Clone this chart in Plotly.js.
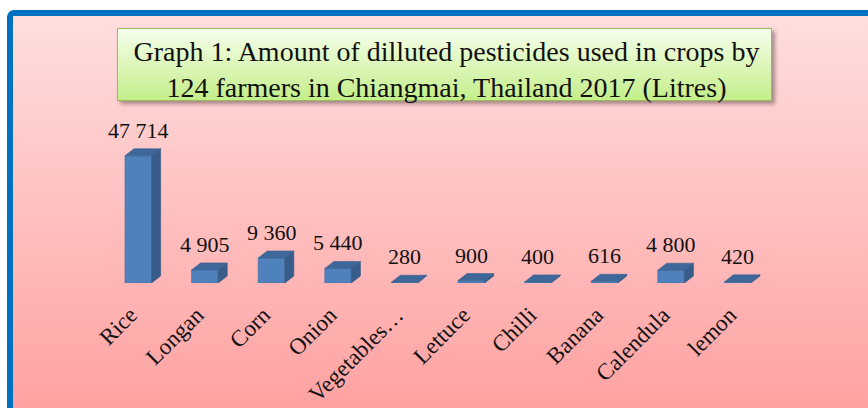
<!DOCTYPE html>
<html><head><meta charset="utf-8">
<script src="https://cdn.plot.ly/plotly-3.0.1.min.js"></script>
<style>
html,body{margin:0;padding:0;background:#fff;}
#wrap{position:relative;width:868px;height:408px;overflow:hidden;background:#fff;}
#frame{position:absolute;left:7px;top:10px;width:900px;height:450px;box-sizing:border-box;border:6px solid #0070C0;border-radius:7px;background:linear-gradient(to bottom,#FFDEDE 0px,#FFA2A2 392px);}
#tbox{position:absolute;left:117px;top:28px;width:655px;height:73px;box-sizing:border-box;border:1.5px solid #9BBB59;background:linear-gradient(to bottom,#F6FFEC,#C4EE8A);box-shadow:3px 3px 4px rgba(0,0,0,0.35);}
#chart{position:absolute;left:0;top:0;width:868px;height:408px;}
</style></head>
<body>
<div id="wrap"><div id="frame"></div><div id="tbox"></div><div id="chart"></div></div>
<script>
const categories = ['Rice','Longan','Corn','Onion','Vegetables…','Lettuce','Chilli','Banana','Calendula','lemon'];
const litres = [47714, 4905, 9360, 5440, 280, 900, 400, 616, 4800, 420];
const chartTitle = 'Graph 1: Amount of dilluted pesticides used in crops by<br>124 farmers in Chiangmai, Thailand 2017 (Litres)';

const W = 868, H = 408, ml = 105, mr = 97, mb = 125;
const yMax = 60000;
const plotH = 127 / 47714 * yMax;
const mt = H - mb - plotH;
const plotW = W - ml - mr;
const n = categories.length;
const barW = 0.4;
const dx = 9 / (plotW / n);
const dy = 7 * yMax / plotH;
const labelShift = 0.12;

const idx = categories.map((c, i) => i);
const sideX = [], sideY = [], topX = [], topY = [];
idx.forEach(i => {
  const v = litres[i], l = i - barW / 2, r = i + barW / 2;
  sideX.push(r, r + dx, r + dx, r, r, null);
  sideY.push(0, dy, v + dy, v, 0, null);
  topX.push(l, l + dx, r + dx, r, l, null);
  topY.push(v, v + dy, v + dy, v, v, null);
});
const fmt = v => String(v).replace(/\B(?=(\d{3})+(?!\d))/g, ' ');

const font = 'Liberation Serif, Times New Roman, serif';
const traces = [
  {type: 'bar', x: idx, y: litres, width: barW, marker: {color: '#4F81BD', line: {color: '#3F6EA6', width: 0.6}}, hoverinfo: 'skip'},
  {type: 'scatter', mode: 'lines', x: sideX, y: sideY, fill: 'toself', fillcolor: '#385D8A', line: {color: '#345780', width: 0.6}, hoverinfo: 'skip'},
  {type: 'scatter', mode: 'lines', x: topX, y: topY, fill: 'toself', fillcolor: '#3E6899', line: {color: '#3A6290', width: 0.6}, hoverinfo: 'skip'}
];
const layout = {
  width: W, height: H,
  margin: {l: ml, r: mr, t: mt, b: mb, pad: 0},
  paper_bgcolor: 'rgba(0,0,0,0)', plot_bgcolor: 'rgba(0,0,0,0)',
  showlegend: false,
  title: {text: chartTitle, font: {family: font, size: 28, color: '#111'}, x: 445 / W, xanchor: 'center', xref: 'paper', y: 1 - 61 / H, yanchor: 'middle', yref: 'container'},
  xaxis: {range: [-0.5, n - 0.5], tickvals: idx.map(i => i - labelShift), ticktext: categories, tickangle: -45, showgrid: false, zeroline: false, showline: false, ticks: '', ticklabelstandoff: 13, automargin: false, tickfont: {family: font, size: 23, color: '#111'}, fixedrange: true},
  yaxis: {range: [0, yMax], visible: false, automargin: false, fixedrange: true},
  annotations: idx.map(i => ({x: i, y: litres[i] + dy, xref: 'x', yref: 'y', text: fmt(litres[i]), showarrow: false, xanchor: 'center', yanchor: 'bottom', yshift: 4, font: {family: font, size: 22, color: '#111'}}))
};
Plotly.newPlot('chart', traces, layout, {displayModeBar: false, staticPlot: true});
</script>
</body></html>
